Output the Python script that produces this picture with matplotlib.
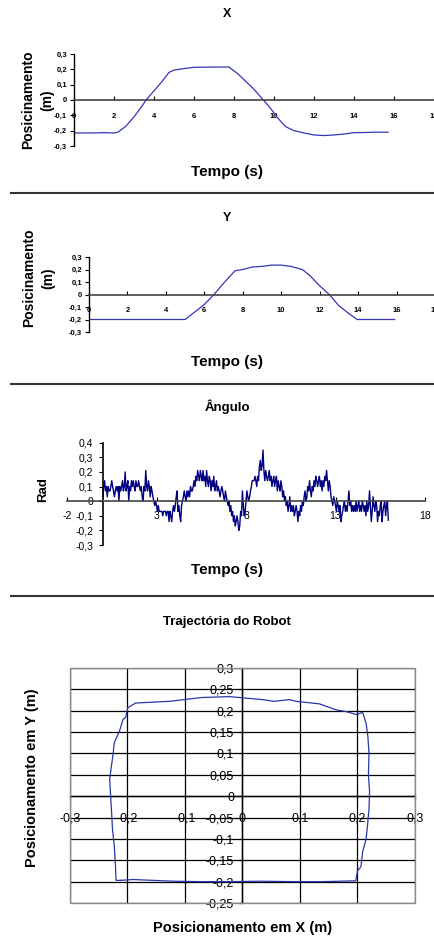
import matplotlib

matplotlib.use("Agg")
import matplotlib.pyplot as plt
from matplotlib.lines import Line2D
from matplotlib.patches import Rectangle
from matplotlib.ticker import FuncFormatter, MultipleLocator

W, H = 435, 938

# X position over time (s, m)
X_TIME = [0, 1.0, 1.5, 2.0, 2.2, 2.6, 3.0, 3.4, 3.6, 4.0, 4.4, 4.75, 5.0, 5.5, 6.0, 7.0, 7.75,
          8.2, 8.6, 9.0, 9.4, 9.8, 10.2, 10.6, 11.0, 11.5, 12.0, 12.5, 13.0, 13.5, 14.0, 14.5, 15.0, 15.7]
X_POS = [-0.215, -0.215, -0.213, -0.215, -0.21, -0.17, -0.11, -0.04, 0.0, 0.06, 0.12, 0.18, 0.195, 0.205,
         0.213, 0.215, 0.215, 0.17, 0.12, 0.07, 0.01, -0.05, -0.12, -0.175, -0.2, -0.215, -0.228, -0.232,
         -0.228, -0.222, -0.213, -0.212, -0.21, -0.21]

# Y position over time (s, m)
Y_TIME = [0, 1.0, 2.3, 4.4, 5.0, 5.5, 6.0, 6.5, 7.0, 7.6, 8.0, 8.5, 9.0, 9.5, 10.0, 10.5, 11.1,
          11.5, 12.0, 12.5, 13.0, 13.5, 13.95, 15.0, 15.5, 15.9]
Y_POS = [-0.2, -0.2, -0.2, -0.2, -0.2, -0.14, -0.08, 0.0, 0.09, 0.19, 0.2, 0.22, 0.225, 0.235, 0.235,
         0.225, 0.2, 0.15, 0.07, 0.0, -0.09, -0.15, -0.2, -0.2, -0.2, -0.2]

# heading angle (rad), one sample every 0.05 s
ANGLE_DT = 0.05
ANGLE_RAD = [
    0.03, 0.1, 0.14, 0.07, 0.1, 0.03, 0.1, 0.07, 0.07, 0.1, 0.14, 0.1, 0.07, 0.03, 0.07, 0.1, 0.07, 0.1, 0.0, 0.1,
    0.07, 0.1, 0.14, 0.07, 0.1, 0.2, 0.07, 0.1, 0.14, 0.0, 0.1, 0.07, 0.14, 0.1, 0.14, 0.1, 0.07, 0.14, 0.1, 0.1,
    0.14, 0.1, 0.07, 0.1, 0.03, 0.0, 0.1, 0.07, 0.21, 0.1, 0.07, 0.14, 0.1, 0.03, 0.1, 0.07, 0.03, 0.0, -0.03, 0.0,
    -0.03, -0.07, -0.03, -0.07, -0.07, -0.07, -0.07, -0.1, -0.07, -0.07, -0.07, -0.1, -0.07, -0.07, -0.14, -0.07,
    -0.1, -0.14, -0.07, -0.03,
    -0.07, -0.03, 0.03, 0.07, -0.07, -0.03, -0.1, -0.14, -0.03, 0.0, 0.03, 0.07, 0.03, 0.0, 0.07, 0.03, 0.07, 0.03,
    0.1, 0.07,
    0.07, 0.1, 0.14, 0.1, 0.17, 0.14, 0.21, 0.17, 0.14, 0.21, 0.17, 0.14, 0.21, 0.14, 0.17, 0.1, 0.21, 0.14, 0.1, 0.17,
    0.14, 0.07, 0.14, 0.1, 0.17, 0.07, 0.1, 0.14, 0.07, 0.1, 0.07, 0.03, 0.07, 0.1, 0.07, 0.03, 0.0, 0.07, 0.03, 0.0,
    -0.03, 0.0, -0.07, -0.03, -0.1, -0.07, -0.14, -0.1, -0.17, -0.14, -0.1, -0.14, -0.2, -0.17, -0.07, -0.1, 0.07,
    -0.03, -0.1, -0.07,
    0.0, 0.07, 0.03, 0.0, 0.03, 0.07, 0.1, 0.14, 0.14, 0.14, 0.17, 0.14, 0.1, 0.17, 0.14, 0.24, 0.28, 0.21, 0.24, 0.35,
    0.21, 0.14, 0.21, 0.17, 0.14, 0.17, 0.21, 0.14, 0.17, 0.1, 0.14, 0.17, 0.1, 0.14, 0.17, 0.07, 0.14, 0.1, 0.07, 0.14,
    0.1, 0.03, 0.07, 0.0, 0.03, -0.03, 0.0, -0.07, -0.03, 0.03, -0.07, -0.03, -0.07, -0.03, -0.1, -0.07, -0.03, -0.07,
    -0.14, -0.07,
    -0.1, -0.03, -0.07, 0.0, -0.03, 0.03, 0.07, 0.0, 0.03, 0.1, 0.07, 0.14, 0.07, 0.03, 0.1, 0.07, 0.14, 0.1, 0.17, 0.14,
    0.1, 0.14, 0.17, 0.1, 0.14, 0.07, 0.14, 0.1, 0.17, 0.14, 0.21, 0.14, 0.07, 0.14, 0.1, 0.03, 0.0, -0.03, 0.03, 0.0,
    -0.03, -0.07, 0.0, -0.03, -0.07, -0.03, -0.14, -0.1, -0.07, -0.03, 0.0, -0.07, -0.03, -0.07, 0.0, 0.07, -0.03,
    0.0, -0.07, -0.03,
    -0.07, -0.03, -0.07, 0.0, -0.07, -0.03, 0.0, -0.07, -0.03, -0.07, 0.0, -0.03, -0.07, -0.03, -0.1, 0.0, -0.07,
    -0.03, 0.07, -0.03,
    -0.14, -0.07, 0.03, -0.03, -0.07, 0.0, -0.03, -0.14, -0.07, -0.1, -0.03, 0.0, -0.14, -0.07, -0.03, 0.0, -0.1,
    -0.03, 0.0, -0.13,
]

# robot path in the plane (m)
TRAJ_X = [-0.212, -0.19, -0.174, -0.12, -0.07, -0.02, 0.03, 0.09, 0.14, 0.197, 0.2, 0.206, 0.209, 0.215, 0.218,
          0.22, 0.221, 0.219, 0.22, 0.218, 0.215, 0.209, 0.198, 0.18, 0.163, 0.134, 0.093, 0.082, 0.055, 0.035,
          -0.023, -0.07, -0.127, -0.186, -0.1995, -0.203, -0.208, -0.214, -0.223, -0.2255, -0.229, -0.231,
          -0.228, -0.226, -0.223, -0.221, -0.22, -0.212]
TRAJ_Y = [-0.197, -0.195, -0.196, -0.199, -0.2, -0.2, -0.199, -0.2, -0.2, -0.198, -0.175, -0.165, -0.13, -0.1,
          -0.06, -0.03, 0.01, 0.05, 0.1, 0.14, 0.17, 0.196, 0.191, 0.198, 0.202, 0.216, 0.222, 0.226, 0.222, 0.226,
          0.233, 0.231, 0.222, 0.218, 0.207, 0.185, 0.179, 0.152, 0.125, 0.094, 0.06, 0.04, -0.03, -0.08, -0.116,
          -0.16, -0.197, -0.197]

LINE_BLUE = "#3535b5"
NAVY = "#000080"


def _rect(left, top, right, bottom):
    return [left / W, 1 - bottom / H, (right - left) / W, (bottom - top) / H]


def _px(x, y):
    return x / W, 1 - y / H


def _comma(value, _pos=None):
    if abs(value) < 1e-9:
        return "0"
    return f"{value:.2f}".rstrip("0").replace(".", ",")


def _position_panel(fig, rect, times, values, title_y, ylabel_x, label_y, xlabel_y):
    ax = fig.add_axes(rect)
    ax.plot(times, values, color=LINE_BLUE, lw=0.9)
    ax.set_xlim(0, 18)
    ax.set_ylim(-0.3, 0.3)
    ax.patch.set_visible(False)
    for side in ("top", "right"):
        ax.spines[side].set_visible(False)
    ax.spines["bottom"].set_position(("data", 0))
    ax.spines["bottom"].set_color("#444444")
    ax.spines["bottom"].set_linewidth(1.2)
    ax.spines["left"].set_linewidth(1.0)
    xt = list(range(0, 19, 2))
    ax.set_xticks(xt)
    ax.set_xticklabels([str(v) for v in xt], fontweight="bold", fontsize=5.5)
    yt = [-0.3, -0.2, -0.1, 0, 0.1, 0.2, 0.3]
    ax.set_yticks(yt)
    ax.set_yticklabels([_comma(v) for v in yt], fontweight="bold", fontsize=5.5)
    ax.tick_params(axis="x", direction="in", length=3, pad=9)
    ax.tick_params(axis="y", direction="out", length=3, pad=2)
    fig.text(*_px(227, title_y), "X" if title_y < 100 else "Y", ha="center", va="center",
             fontsize=9, fontweight="bold")
    fig.text(*_px(ylabel_x, label_y), "Posicinamento\n(m)", rotation=90, ha="center", va="center",
             fontsize=10, fontweight="bold", linespacing=1.45, multialignment="center")
    fig.text(*_px(227, xlabel_y), "Tempo (s)", ha="center", va="center", fontsize=11, fontweight="bold")
    return ax


def _angle_panel(fig):
    ax = fig.add_axes(_rect(67, 442.7, 425, 545))
    times = [i * ANGLE_DT for i in range(len(ANGLE_RAD))]
    ax.plot(times, ANGLE_RAD, color=NAVY, lw=1.0)
    ax.set_xlim(-2, 18)
    ax.set_ylim(-0.3, 0.4)
    ax.patch.set_visible(False)
    for side in ("top", "right"):
        ax.spines[side].set_visible(False)
    ax.spines["bottom"].set_position(("data", 0))
    ax.spines["left"].set_position(("data", 0))
    ax.spines["bottom"].set_color("#444444")
    ax.spines["bottom"].set_linewidth(1.2)
    ax.spines["left"].set_linewidth(1.2)
    xt = [-2, 3, 8, 13, 18]
    ax.set_xticks(xt)
    ax.set_xticklabels([str(v) for v in xt], fontsize=7.5)
    yt = [-0.3, -0.2, -0.1, 0, 0.1, 0.2, 0.3, 0.4]
    ax.set_yticks(yt)
    ax.set_yticklabels([_comma(v) for v in yt], fontsize=7.5)
    ax.tick_params(axis="x", direction="in", length=3, pad=7)
    ax.tick_params(axis="y", direction="out", length=3, pad=4)
    fig.text(*_px(227, 407), "Ângulo", ha="center", va="center", fontsize=9.5, fontweight="bold")
    fig.text(*_px(43, 490), "Rad", rotation=90, ha="center", va="center", fontsize=9.5, fontweight="bold")
    fig.text(*_px(227, 570), "Tempo (s)", ha="center", va="center", fontsize=11, fontweight="bold")


def _trajectory_panel(fig):
    ax = fig.add_axes(_rect(70, 668, 415, 903))
    ax.set_xlim(-0.3, 0.3)
    ax.set_ylim(-0.25, 0.3)
    ax.xaxis.set_major_locator(MultipleLocator(0.1))
    ax.yaxis.set_major_locator(MultipleLocator(0.05))
    ax.xaxis.set_major_formatter(FuncFormatter(_comma))
    ax.yaxis.set_major_formatter(FuncFormatter(_comma))
    ax.grid(True, color="black", lw=0.9)
    ax.set_axisbelow(True)
    ax.plot(TRAJ_X, TRAJ_Y, color="#2a36a8", lw=0.9, zorder=3)
    for side in ("top", "right"):
        ax.spines[side].set_visible(False)
    ax.spines["bottom"].set_position(("data", 0))
    ax.spines["left"].set_position(("data", 0))
    ax.spines["bottom"].set_linewidth(1.0)
    ax.spines["left"].set_linewidth(1.0)
    ax.add_patch(Rectangle((0, 0), 1, 1, transform=ax.transAxes, fill=False, edgecolor="#8a8a8a",
                           lw=1.0, zorder=4, clip_on=False))
    ax.tick_params(axis="x", direction="out", length=3, pad=9, labelsize=9)
    ax.tick_params(axis="y", direction="out", length=3, pad=3, labelsize=9)
    fig.text(*_px(227, 622), "Trajectória do Robot", ha="center", va="center", fontsize=9.5,
             fontweight="bold")
    fig.text(*_px(243, 928), "Posicionamento em X (m)", ha="center", va="center", fontsize=10.5,
             fontweight="bold")
    fig.text(*_px(32, 778), "Posicionamento em Y (m)", rotation=90, ha="center", va="center",
             fontsize=10.5, fontweight="bold")


def main():
    plt.rcParams["font.family"] = ["Liberation Sans", "DejaVu Sans"]
    fig = plt.figure(figsize=(W / 100, H / 100), dpi=100)
    fig.patch.set_facecolor("white")

    _position_panel(fig, _rect(74, 54, 434, 146), X_TIME, X_POS, 14, 38, 100, 172)
    _position_panel(fig, _rect(89, 257, 435, 332), Y_TIME, Y_POS, 218, 39, 278, 362)
    _angle_panel(fig)
    _trajectory_panel(fig)

    for y in (193, 383.5, 596):
        fig.add_artist(Line2D([11 / W, 1], [1 - y / H] * 2, transform=fig.transFigure, color="#333333", lw=1.5))

    fig.savefig("out.png", dpi=100)
    plt.close(fig)


if __name__ == "__main__":
    main()
